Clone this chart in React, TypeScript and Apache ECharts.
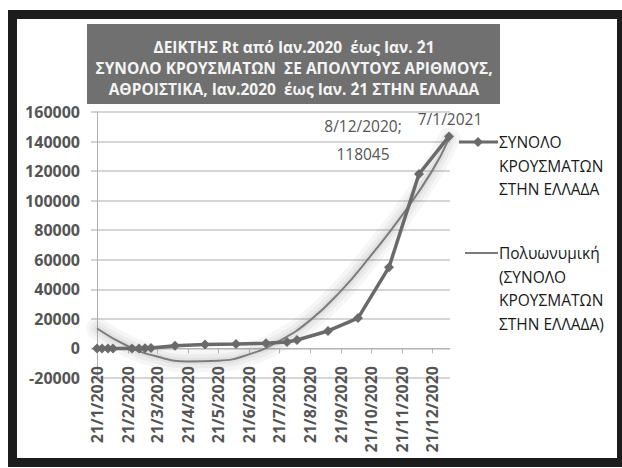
import React, { useEffect, useRef } from "react";
import * as echarts from "echarts";

// ---- data ----
const TICK_LABELS = [
  "21/1/2020", "21/2/2020", "21/3/2020", "21/4/2020", "21/5/2020", "21/6/2020",
  "21/7/2020", "21/8/2020", "21/9/2020", "21/10/2020", "21/11/2020", "21/12/2020",
];
const X_MIN = "21/1/2020";
const X_MAX = "8/1/2021";
const Y_MIN = -20000;
const Y_MAX = 160000;
const Y_STEP = 20000;

const CASE_DATES = [
  "21/1/2020", "26/1/2020", "1/2/2020", "6/2/2020", "25/2/2020", "3/3/2020",
  "9/3/2020", "15/3/2020", "8/4/2020", "8/5/2020", "8/6/2020", "8/7/2020",
  "29/7/2020", "8/8/2020", "8/9/2020", "8/10/2020", "8/11/2020", "8/12/2020",
  "7/1/2021",
];
const CASE_VALUES = [
  0, 0, 0, 0, 1, 7,
  73, 228, 1884, 2678, 3049, 3562,
  4337, 5749, 11832, 20541, 55000, 118045,
  143500,
];
const LABEL_WITH_VALUE = ["8/12/2020"];
const LABEL_DATE_ONLY = ["7/1/2021"];

const TREND_DATES = [
  "21/1/2020", "21/2/2020", "21/3/2020", "21/4/2020", "21/5/2020", "21/6/2020",
  "21/7/2020", "21/8/2020", "21/9/2020", "21/10/2020", "21/11/2020", "21/12/2020",
  "7/1/2021",
];
const TREND_VALUES = [
  13500, 1500, -5500, -8800, -8300, -4000,
  5000, 19000, 39000, 63000, 90000, 120000,
  142000,
];

const SERIES_NAME = "ΣΥΝΟΛΟ ΚΡΟΥΣΜΑΤΩΝ ΣΤΗΝ ΕΛΛΑΔΑ";
const TREND_NAME = "Πολυωνυμική (ΣΥΝΟΛΟ ΚΡΟΥΣΜΑΤΩΝ ΣΤΗΝ ΕΛΛΑΔΑ)";
const LEGEND1_LINES = ["ΣΥΝΟΛΟ", "ΚΡΟΥΣΜΑΤΩΝ", "ΣΤΗΝ ΕΛΛΑΔΑ"];
const LEGEND2_LINES = ["Πολυωνυμική", "(ΣΥΝΟΛΟ", "ΚΡΟΥΣΜΑΤΩΝ", "ΣΤΗΝ ΕΛΛΑΔΑ)"];
const TITLE_LINES = [
  "ΔΕΙΚΤΗΣ Rt από Ιαν.2020  έως Ιαν. ΄21",
  "ΣΥΝΟΛΟ ΚΡΟΥΣΜΑΤΩΝ  ΣΕ ΑΠΟΛΥΤΟΥΣ ΑΡΙΘΜΟΥΣ,",
  "ΑΘΡΟΙΣΤΙΚΑ, Ιαν.2020  έως Ιαν. ΄21 ΣΤΗΝ ΕΛΛΑΔΑ",
];

const DAY = 86400000;
function parseDate(s: string): number {
  const [d, m, y] = s.split("/").map(Number);
  return Date.UTC(y, m - 1, d);
}
function dayNum(s: string): number {
  return Math.round((parseDate(s) - parseDate(X_MIN)) / DAY);
}

const FONT = "'Open Sans', 'Noto Sans', sans-serif";

export default function App() {
  const ref = useRef<HTMLDivElement>(null);

  useEffect(() => {
    document.body.style.margin = "0";
    document.body.style.overflow = "hidden";
    if (!ref.current) return;
    const chart = echarts.init(ref.current, undefined, { renderer: "svg" });

    const tickDays = TICK_LABELS.map(dayNum);

    const caseData = CASE_DATES.map((d, i) => {
      const item: any = { value: [dayNum(d), CASE_VALUES[i]] };
      if (LABEL_WITH_VALUE.includes(d)) {
        item.label = {
          show: true,
          position: "top",
          distance: 5,
          offset: [-56, 4],
          formatter: `${d};\n${CASE_VALUES[i]}`,
          fontFamily: FONT,
          fontSize: 15.5,
          lineHeight: 28,
          color: "#555",
          align: "center",
        };
      } else if (LABEL_DATE_ONLY.includes(d)) {
        item.label = {
          show: true,
          position: "top",
          distance: 5,
          offset: [1, 1],
          formatter: d,
          fontFamily: FONT,
          fontSize: 15.5,
          lineHeight: 16,
          color: "#555",
        };
      }
      return item;
    });

    const trendData = TREND_DATES.map((d, i) => [dayNum(d), TREND_VALUES[i]]);

    const legendFont = `15.5px ${FONT}`;

    const glow = (w: number, a: number) => ({
      name: TREND_NAME,
      type: "line",
      data: trendData,
      smooth: true,
      showSymbol: false,
      symbol: "none",
      silent: true,
      z: 1,
      lineStyle: { color: `rgba(110,110,110,${a})`, width: w, cap: "round", join: "round" },
    });

    chart.setOption({
      animation: false,
      backgroundColor: "#ffffff",
      grid: {
        left: 97,
        right: 172,
        top: 112,
        bottom: 90,
        containLabel: false,
        outerBoundsMode: "none",
      },
      xAxis: {
        type: "value",
        min: 0,
        max: dayNum(X_MAX),
        axisLine: { show: true, onZero: true, lineStyle: { color: "#b5b5b5", width: 1 } },
        axisTick: {
          show: true,
          customValues: tickDays,
          length: 5,
          inside: false,
          lineStyle: { color: "#b5b5b5" },
        },
        axisLabel: {
          customValues: tickDays,
          rotate: 90,
          margin: -12,
          hideOverlap: false,
          fontFamily: FONT,
          fontSize: 16,
          fontWeight: "bold",
          color: "#555",
          formatter: (v: number) => {
            const idx = tickDays.indexOf(Math.round(v));
            return idx >= 0 ? TICK_LABELS[idx] : "";
          },
        },
        splitLine: { show: false },
      },
      yAxis: {
        type: "value",
        min: Y_MIN,
        max: Y_MAX,
        interval: Y_STEP,
        axisLine: { show: true, lineStyle: { color: "#b0b0b0" } },
        axisTick: { show: true, length: 6, lineStyle: { color: "#c4c4c4", width: 1.5 } },
        axisLabel: {
          margin: 17,
          fontFamily: FONT,
          fontSize: 16,
          fontWeight: "bold",
          color: "#555",
          formatter: (v: number) => String(v),
        },
        splitLine: { show: true, lineStyle: { color: "#c8c8c8", width: 1.5 } },
      },
      series: [
        glow(22, 0.06),
        glow(14, 0.07),
        glow(7, 0.08),
        {
          name: TREND_NAME,
          type: "line",
          data: trendData,
          smooth: true,
          showSymbol: false,
          symbol: "none",
          z: 2,
          lineStyle: { color: "#7c7c7c", width: 2 },
        },
        {
          name: SERIES_NAME,
          type: "line",
          data: caseData,
          symbol: "diamond",
          symbolSize: 10,
          showAllSymbol: true,
          z: 3,
          lineStyle: { color: "#6a6a6a", width: 3.5 },
          itemStyle: { color: "#6a6a6a" },
        },
      ],
      graphic: [
        {
          type: "rect",
          shape: { x: 12.5, y: 14.5, width: 609, height: 448 },
          style: { fill: "none", stroke: "#1c1c1c", lineWidth: 9 },
          z: 100,
        },
        {
          type: "rect",
          shape: { x: 87, y: 24, width: 413, height: 80 },
          style: { fill: "#707070" },
          z: 50,
        },
        {
          type: "text",
          x: 294,
          y: 68,
          z: 51,
          style: {
            text: TITLE_LINES.join("\n"),
            font: `bold 15.5px ${FONT}`,
            fill: "#f4f4f4",
            align: "center",
            verticalAlign: "middle",
            lineHeight: 21,
          },
        },
        {
          type: "line",
          shape: { x1: 459, y1: 142, x2: 498, y2: 142 },
          style: { stroke: "#6a6a6a", lineWidth: 3 },
          z: 50,
        },
        {
          type: "polygon",
          shape: { points: [[478, 137], [483, 142], [478, 147], [473, 142]] },
          style: { fill: "#6a6a6a" },
          z: 51,
        },
        {
          type: "text",
          x: 499,
          y: 142 - 11.75,
          z: 50,
          style: {
            text: LEGEND1_LINES.join("\n"),
            font: legendFont,
            fill: "#1a1a1a",
            align: "left",
            verticalAlign: "top",
            lineHeight: 23.5,
          },
        },
        {
          type: "line",
          shape: { x1: 465, y1: 253, x2: 498, y2: 253 },
          style: { stroke: "#7c7c7c", lineWidth: 2 },
          z: 50,
        },
        {
          type: "text",
          x: 499,
          y: 253 - 11.75,
          z: 50,
          style: {
            text: LEGEND2_LINES.join("\n"),
            font: legendFont,
            fill: "#1a1a1a",
            align: "left",
            verticalAlign: "top",
            lineHeight: 23.5,
          },
        },
      ],
    });

    return () => chart.dispose();
  }, []);

  return <div ref={ref} style={{ width: 622, height: 468 }} />;
}
